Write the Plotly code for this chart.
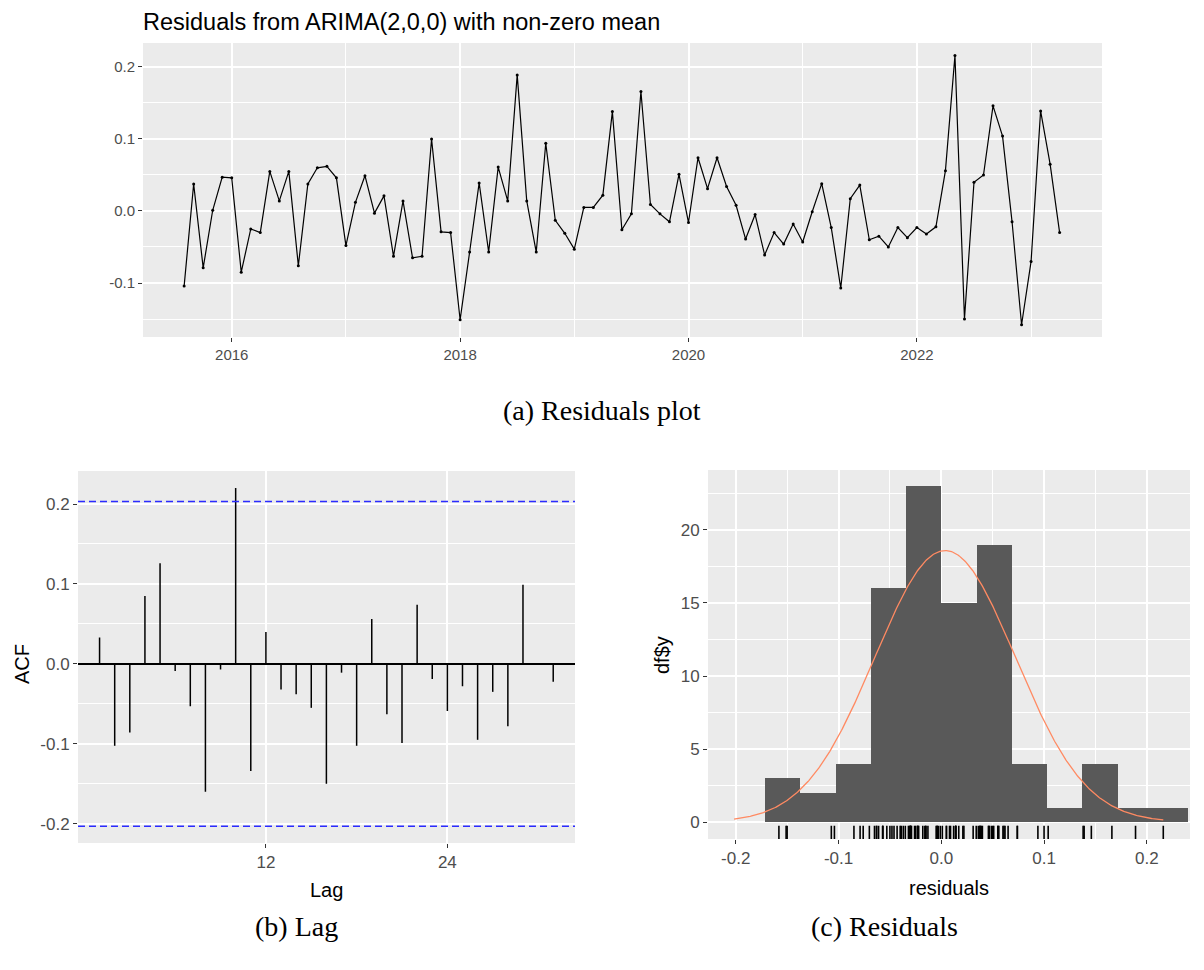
import numpy as np
import plotly.graph_objects as go

W, H = 1204, 970

# ---------------- data ----------------
# Monthly residuals, Aug 2015 .. Apr 2023
start_year = 2015
start_month = 8
residuals = [
    -0.104, 0.0375, -0.079, 0.001, 0.047, 0.046, -0.085, -0.025, -0.030, 0.055,
    0.014, 0.055, -0.076, 0.0375, 0.060, 0.062, 0.046, -0.048, 0.012, 0.049,
    -0.003, 0.021, -0.063, 0.014, -0.065, -0.063, 0.100, -0.029, -0.030, -0.151,
    -0.057, 0.039, -0.057, 0.061, 0.014, 0.189, 0.014, -0.057, 0.094, -0.013,
    -0.031, -0.053, 0.005, 0.005, 0.022, 0.138, -0.026, -0.004, 0.166, 0.009,
    -0.004, -0.015, 0.051, -0.016, 0.074, 0.031, 0.074, 0.034, 0.008, -0.039,
    -0.005, -0.061, -0.030, -0.046, -0.018, -0.043, -0.001, 0.038, -0.023, -0.107,
    0.017, 0.036, -0.040, -0.035, -0.050, -0.023, -0.037, -0.023, -0.032, -0.022,
    0.056, 0.216, -0.150, 0.040, 0.050, 0.146, 0.104, -0.015, -0.158, -0.070,
    0.139, 0.065, -0.030,
]

acf_lags = list(range(1, 32))
acf_values = [
    0.033, -0.1025, -0.086, 0.085, 0.126, -0.009, -0.053, -0.160, -0.007, 0.220,
    -0.134, 0.040, -0.032, -0.038, -0.055, -0.150, -0.011, -0.1025, 0.056, -0.063,
    -0.099, 0.074, -0.019, -0.059, -0.028, -0.095, -0.035, -0.078, 0.099, 0.0,
    -0.0225,
]

hist_bin_start = -0.1715
hist_bin_width = 0.0343
hist_counts = [3, 2, 4, 16, 23, 15, 19, 4, 1, 4, 1, 1]

top_year_ticks = [2016, 2018, 2020, 2022]
top_year_minor = [2015, 2017, 2019, 2021, 2023]
top_y_ticks = [-0.1, 0.0, 0.1, 0.2]
top_y_ticktext = ["-0.1", "0.0", "0.1", "0.2"]
acf_y_ticks = [-0.2, -0.1, 0.0, 0.1, 0.2]
acf_y_ticktext = ["-0.2", "-0.1", "0.0", "0.1", "0.2"]
acf_x_ticks = [12, 24]
hist_x_ticks = [-0.2, -0.1, 0.0, 0.1, 0.2]
hist_x_ticktext = ["-0.2", "-0.1", "0.0", "0.1", "0.2"]
hist_y_ticks = [0, 5, 10, 15, 20]

# ---------------- derived ----------------
n = len(residuals)
res = np.array(residuals)
t = start_year + (start_month - 1 + np.arange(n)) / 12.0

acf_x, acf_y = [], []
for lag, v in zip(acf_lags, acf_values):
    acf_x += [lag, lag, None]
    acf_y += [0, v, None]
ci = 1.96 / np.sqrt(n)

centers = hist_bin_start + hist_bin_width * (np.arange(len(hist_counts)) + 0.5)
mu, sd = res.mean(), res.std(ddof=1)
xg = np.linspace(min(res.min(), mu - 3 * sd), max(res.max(), mu + 3 * sd), 512)
yg = n * hist_bin_width * np.exp(-0.5 * ((xg - mu) / sd) ** 2) / (sd * np.sqrt(2 * np.pi))

# ---------------- figure ----------------
SANS = "Liberation Sans"
SERIF = "Liberation Serif"
PANEL = "#EBEBEB"
TICKC = "#4D4D4D"

fig = go.Figure()

fig.add_trace(go.Scatter(
    x=t, y=res, mode="lines+markers",
    line=dict(color="black", width=1.2),
    marker=dict(color="black", size=3),
    xaxis="x", yaxis="y", showlegend=False))

fig.add_trace(go.Scatter(
    x=acf_x, y=acf_y, mode="lines",
    line=dict(color="black", width=1.5),
    xaxis="x2", yaxis="y2", showlegend=False))

fig.add_trace(go.Bar(
    x=centers, y=hist_counts, width=hist_bin_width,
    marker=dict(color="#595959", line=dict(width=0)),
    xaxis="x3", yaxis="y3", showlegend=False))

fig.add_trace(go.Scatter(
    x=xg, y=yg, mode="lines", line=dict(color="#ff8a62", width=1.3),
    xaxis="x3", yaxis="y3", showlegend=False))

fig.add_trace(go.Scatter(
    x=res, y=[-0.77] * n, mode="markers",
    marker=dict(symbol="line-ns-open", size=11, color="black",
                line=dict(color="black", width=1.6)),
    xaxis="x3", yaxis="y3", showlegend=False))


def ax(domain, rng, tickvals, ticktext, minor_vals, fs, anchor, minor_grid=True):
    d = dict(
        domain=domain, range=rng, anchor=anchor,
        tickmode="array", tickvals=tickvals, ticktext=ticktext,
        showgrid=True, gridcolor="white", gridwidth=1.8,
        zeroline=False, showline=False,
        ticks="outside", ticklen=4, tickwidth=1, tickcolor="#333333",
        tickfont=dict(family=SANS, size=fs, color=TICKC),
        automargin=False, fixedrange=True,
    )
    if minor_grid and minor_vals:
        d["minor"] = dict(tickvals=minor_vals, showgrid=True,
                          gridcolor="white", gridwidth=0.9, ticks="")
    return d


def px_x(a, b):
    return [a / W, b / W]


def px_y(top, bottom):
    return [1 - bottom / H, 1 - top / H]


layout = dict(
    width=W, height=H,
    margin=dict(l=0, r=0, t=0, b=0),
    paper_bgcolor="white", plot_bgcolor=PANEL,
    showlegend=False, bargap=0,
)

layout["xaxis"] = ax(px_x(143, 1102), [2015.223, 2023.621], top_year_ticks,
                     [str(v) for v in top_year_ticks], top_year_minor, 15, "y")
layout["yaxis"] = ax(px_y(43, 337), [-0.175, 0.2333], top_y_ticks, top_y_ticktext,
                     [-0.15, -0.05, 0.05, 0.15], 15, "x")

layout["xaxis2"] = ax(px_x(78, 575), [-0.426, 32.44], acf_x_ticks,
                      [str(v) for v in acf_x_ticks], None, 17, "y2", minor_grid=False)
layout["yaxis2"] = ax(px_y(471, 843), [-0.2241, 0.2413], acf_y_ticks, acf_y_ticktext,
                      [-0.15, -0.05, 0.05, 0.15], 17, "x2")
layout["yaxis2"].update(zeroline=True, zerolinecolor="black", zerolinewidth=1.5)

layout["xaxis3"] = ax(px_x(708, 1190), [-0.227, 0.242], hist_x_ticks, hist_x_ticktext,
                      [-0.15, -0.05, 0.05, 0.15], 17, "y3")
layout["yaxis3"] = ax(px_y(470, 839), [-1.15, 24.1], hist_y_ticks,
                      [str(v) for v in hist_y_ticks], [2.5, 7.5, 12.5, 17.5, 22.5], 17, "x3")

fig.update_layout(**layout)

# confidence bounds
for s in (1, -1):
    fig.add_shape(type="line", xref="x2 domain", yref="y2",
                  x0=0, x1=1, y0=s * ci, y1=s * ci,
                  line=dict(color="#2b2bff", width=1.5, dash="7px,4px"))


def ann(text, x, y, size, family=SANS, color="black", angle=0, xanchor="center"):
    fig.add_annotation(text=text, x=x / W, y=1 - y / H, xref="paper", yref="paper",
                       showarrow=False, xanchor=xanchor, yanchor="middle",
                       textangle=angle, font=dict(family=family, size=size, color=color))


ann("Residuals from ARIMA(2,0,0) with non-zero mean", 141, 22, 23.5, xanchor="left")
ann("(a) Residuals plot", 602, 410, 28, family=SERIF)
ann("ACF", 22, 664, 20, angle=-90)
ann("Lag", 326, 890, 20)
ann("df$y", 662, 655, 20, angle=-90)
ann("residuals", 949, 888, 20)
ann("(b) Lag", 296, 926, 28, family=SERIF)
ann("(c) Residuals", 884, 926, 28, family=SERIF)

fig.write_html("out.html",
               config={"displayModeBar": False},
               post_script="document.body.style.margin='0';document.body.style.padding='0';")
